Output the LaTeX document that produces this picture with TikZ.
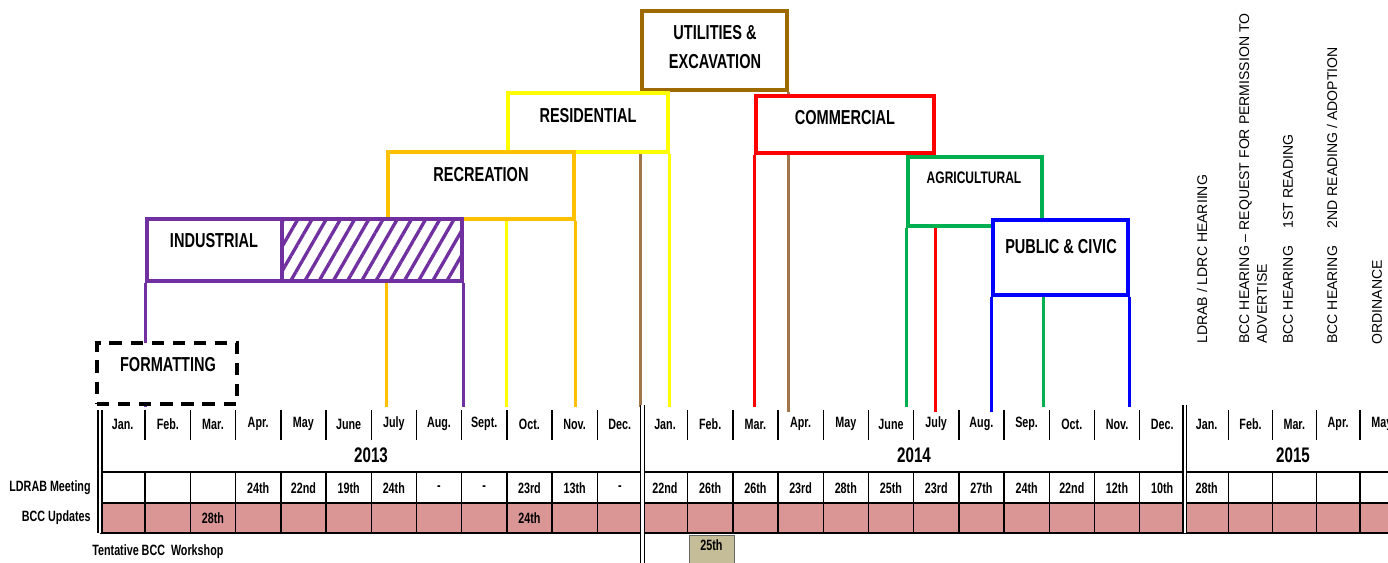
\documentclass[tikz,border=0pt]{standalone}
\usepackage{fontspec}
\setmainfont{Liberation Sans}[FakeStretch=0.72]
\newfontfamily\widefont{Liberation Sans}
\usetikzlibrary{fit,backgrounds,patterns.meta}

\definecolor{indcol}{HTML}{7030A0}
\definecolor{reccol}{HTML}{FFC000}
\definecolor{rescol}{HTML}{FFFF00}
\definecolor{utilcol}{HTML}{9C6A00}
\definecolor{utilline}{HTML}{A0764A}
\definecolor{comcol}{HTML}{FF0000}
\definecolor{agrcol}{HTML}{00B050}
\definecolor{pubcol}{HTML}{0000FF}
\definecolor{bccpink}{HTML}{D99694}
\definecolor{worktan}{HTML}{C4BD97}

\tikzset{
  catbox/.style={draw=#1, line width=2pt, fill=white, inner sep=0pt},
  catline/.style={draw=#1, line width=1.6pt},
  catlabel/.style={font=\fontsize{11.5}{16}\selectfont\bfseries, align=center, inner sep=0pt},
  cellfont/.style={font=\fontsize{8.5}{10}\selectfont\bfseries, inner sep=0pt},
  yearlab/.style={font=\fontsize{12}{14}\selectfont\bfseries, inner sep=0pt},
  sidenote/.style={rotate=90, font=\widefont\fontsize{8}{10}\selectfont, inner sep=0pt, align=left},
  yeardiv/.style={double, line width=0.7pt, double distance=1.5pt},
  tabline/.style={line width=0.8pt},
}

\begin{document}
\begin{tikzpicture}[x=0.02cm,y=-0.02cm,
    declare function={colx(\n)=(\n<24)*(100+45.2*\n)+(1-(\n<24))*(1184.8+43.8*(\n-24));
                      colw(\n)=(\n<24)*45.2+(1-(\n<24))*43.8;}]
  \useasboundingbox (0,0) rectangle (1388,563);
  \coordinate (tl) at (0,407);%top of the time line

  % category boxes, top to bottom
  \node[catbox=utilcol, fit={(642,11)(787,90)}] (utilities) {};
  \node[catlabel] (utillab) at (715,47) {UTILITIES \&\\EXCAVATION};
  \node[catbox=rescol, fit={(508,93)(668,152)}] (residential) {};
  \node[catlabel] (reslab) at (588,116) {RESIDENTIAL};
  \node[catbox=comcol, fit={(756,96)(934,153)}] (commercial) {};
  \node[catlabel] (comlab) at (845,118) {COMMERCIAL};
  \node[catbox=reccol, fit={(388,152)(574,219)}] (recreation) {};
  \node[catlabel] (reclab) at (481,175) {RECREATION};
  \node[catbox=agrcol, fit={(908,157)(1042,226)}] (agricultural) {};
  \node[catlabel, font=\fontsize{9.5}{12}\selectfont\bfseries] (agrlab) at (974,178) {AGRICULTURAL};
  \node[catbox=indcol, fit={(147,219)(282,281)}] (industrial) {};
  \node[catlabel] (indlab) at (214,241) {INDUSTRIAL};
  \node[catbox=indcol, preaction={fill=white},
        pattern={Lines[angle=60,distance=7pt,line width=1.9pt]}, pattern color=indcol,
        fit={(282,219)(462,281)}] (indhatch) {};%extension
  \node[catbox=pubcol, fit={(993,220)(1128,295)}] (public) {};
  \node[catlabel] (publab) at (1061,247) {PUBLIC \& CIVIC};
  \node[catbox=black, dash pattern=on 7pt off 5pt, line width=2.3pt,
        fit={(97,343)(237,404)}] (formatting) {};
  \node[catlabel] (fmtlab) at (168,365) {FORMATTING};

  % drop lines to the time line
  \begin{pgfonlayer}{background}
    \draw[catline=indcol] (industrial.south west) -- (industrial.south west |- tl);
    \draw[catline=indcol] (indhatch.south east) -- (indhatch.south east |- tl);
    \draw[catline=reccol] (recreation.south west) -- (recreation.south west |- tl);
    \draw[catline=reccol] (recreation.south east) -- (recreation.south east |- tl);
    \draw[catline=rescol] (residential.south west) -- (residential.south west |- tl);
    \draw[catline=rescol] (residential.south east) -- (residential.south east |- tl);
    \draw[catline=utilline] (utilities.south west) -- (utilities.south west |- tl);
    \draw[catline=utilline] (utilities.south east) -- ([yshift=-0.1cm]utilities.south east |- tl);
    \draw[catline=comcol] (commercial.south west) -- (commercial.south west |- tl);
    \draw[catline=comcol] (commercial.south east) -- ([yshift=-0.1cm]commercial.south east |- tl);
    \draw[catline=agrcol] (agricultural.south west) -- (agricultural.south west |- tl);
    \draw[catline=agrcol] (agricultural.south east) -- (agricultural.south east |- tl);
    \draw[catline=pubcol] (public.south west) -- ([yshift=-0.1cm]public.south west |- tl);
    \draw[catline=pubcol] (public.south east) -- (public.south east |- tl);
  \end{pgfonlayer}

  % time table
  \fill[bccpink] (100,503) rectangle (1388,533);%BCC row
  \foreach \k/\mon/\ld in {0/Jan./{},1/Feb./{},2/Mar./{},3/Apr./24th,4/May/22nd,5/June/19th,
      6/July/24th,7/Aug./-,8/Sept./-,9/Oct./23rd,10/Nov./13th,11/Dec./-,
      12/Jan./22nd,13/Feb./26th,14/Mar./26th,15/Apr./23rd,16/May/28th,17/June/25th,
      18/July/23rd,19/Aug./27th,20/Sep./24th,21/Oct./22nd,22/Nov./12th,23/Dec./10th,
      24/Jan./28th,25/Feb./{},26/Mar./{},27/Apr./{},28/May/{}}{
    \node[cellfont] (m\k) at ({colx(\k)+colw(\k)/2},424) {\mon};%month
    \node[cellfont] (ld\k) at ({colx(\k)+colw(\k)/2},488) {\ld};%LDRAB date
  }
  \foreach \k in {1,...,11,13,14,...,23,25,26,27,28}
    \draw[tabline] ({colx(\k)},410) -- ({colx(\k)},440);%month ticks
  \foreach \k in {1,...,28}
    \draw[tabline] ({colx(\k)},472) -- ({colx(\k)},533);%cells
  \foreach \y in {472,503,533}
    \draw[line width=1.1pt] (100,\y) -- (1388,\y);
  \foreach \k/\ylo/\yhi in {0/410/533,12/405/563,24/405/533}
    \draw[yeardiv] ({colx(\k)},\ylo) -- ({colx(\k)},\yhi);%year breaks

  \node[yearlab] (y2013) at (371,455) {2013};
  \node[yearlab] (y2014) at (914,455) {2014};
  \node[yearlab] (y2015) at (1293,455) {2015};

  \node[cellfont, anchor=east] (ldrab) at (91,488) {LDRAB Meeting};
  \node[cellfont, anchor=east] (bccrow) at (91,518) {BCC Updates};
  \node[cellfont] (bcc2) at ({colx(2)+colw(2)/2},518) {28th};
  \node[cellfont] (bcc9) at ({colx(9)+colw(9)/2},518) {24th};
  \node[cellfont, anchor=west] (workshop) at (92,552) {Tentative BCC~ Workshop};
  \node[cellfont, draw=black!60, fill=worktan, fit={(689,535)(734,566)}] (ws25) {25th};

  % hearing steps
  \node[sidenote, anchor=west] (ldrc) at (1202,344) {LDRAB / LDRC HEARIING};
  \node[sidenote, anchor=north west] (permit) at (1239,344) {BCC HEARING – REQUEST FOR PERMISSION TO\\ADVERTISE};
  \node[sidenote, anchor=west] (first) at (1288,344) {BCC HEARING\hspace{10pt}1ST READING};
  \node[sidenote, anchor=west] (second) at (1332,344) {BCC HEARING\hspace{10pt}2ND READING / ADOPTION};
  \node[sidenote, anchor=west] (ordin) at (1377,345) {ORDINANCE};
\end{tikzpicture}
\end{document}
